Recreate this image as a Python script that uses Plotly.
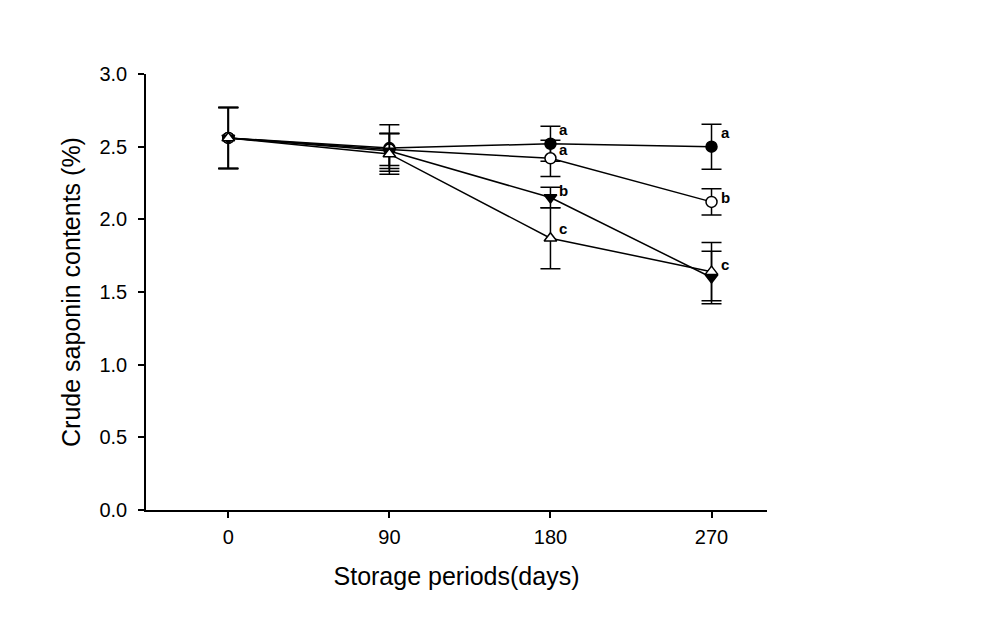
import plotly.graph_objects as go

days = [0, 90, 180, 270]
x_ticks = [0, 90, 180, 270]
y_ticks = [0.0, 0.5, 1.0, 1.5, 2.0, 2.5, 3.0]

filled_circle = [2.56, 2.49, 2.52, 2.50]
filled_circle_err = [0.21, 0.16, 0.12, 0.155]
open_circle = [2.56, 2.48, 2.42, 2.12]
open_circle_err = [0.21, 0.11, 0.125, 0.09]
filled_tri_down = [2.56, 2.47, 2.15, 1.60]
filled_tri_down_err = [0.21, 0.12, 0.07, 0.18]
open_tri_up = [2.56, 2.45, 1.87, 1.64]
open_tri_up_err = [0.21, 0.14, 0.21, 0.20]

# significance letters
letters_x = [180, 180, 180, 180, 270, 270, 270]
letters_y = [2.615, 2.48, 2.20, 1.94, 2.595, 2.15, 1.69]
letters_t = ["a", "a", "b", "c", "a", "b", "c"]

series = [
    (filled_circle, filled_circle_err, "circle", "black"),
    (open_circle, open_circle_err, "circle", "white"),
    (filled_tri_down, filled_tri_down_err, "triangle-down", "black"),
    (open_tri_up, open_tri_up_err, "triangle-up", "white"),
]

FONT = "Liberation Sans, Arial, sans-serif"

fig = go.Figure()
for vals, errs, sym, fill in series:
    fig.add_trace(go.Scatter(
        x=days, y=vals, mode="lines+markers",
        line=dict(color="black", width=1.5),
        marker=dict(symbol=sym, size=11, color=fill, line=dict(color="black", width=1.5)),
        error_y=dict(type="data", array=errs, visible=True, color="black", thickness=1.5, width=10),
        showlegend=False,
    ))

for lx, ly, lt in zip(letters_x, letters_y, letters_t):
    fig.add_annotation(x=lx, y=ly, text="<b>%s</b>" % lt, showarrow=False,
                       xanchor="left", yanchor="middle", xshift=7,
                       font=dict(family=FONT, size=15, color="black"))

fig.update_layout(
    width=1008, height=618,
    margin=dict(l=138, r=249, t=66, b=116),
    paper_bgcolor="white", plot_bgcolor="white",
    font=dict(family=FONT, color="black"),
    xaxis=dict(range=[-46, 301], tickvals=x_ticks, ticktext=[str(v) for v in x_ticks],
               showline=True, linecolor="black", linewidth=1.5, ticks="outside",
               ticklen=6, tickwidth=1.5, tickcolor="black", showgrid=False, zeroline=False,
               tickfont=dict(size=20, family=FONT), ticklabelstandoff=2,
               title=dict(text="Storage periods(days)", font=dict(size=25, family=FONT), standoff=21)),
    yaxis=dict(range=[0, 3], tickvals=y_ticks, ticktext=["%.1f" % v for v in y_ticks],
               showline=True, linecolor="black", linewidth=1.5, ticks="outside",
               ticklen=6, tickwidth=1.5, tickcolor="black", showgrid=False, zeroline=False,
               tickfont=dict(size=20, family=FONT), ticklabelstandoff=7,
               title=dict(text="Crude saponin contents (%)", font=dict(size=25, family=FONT), standoff=12)),
)
fig.write_html("out.html")
